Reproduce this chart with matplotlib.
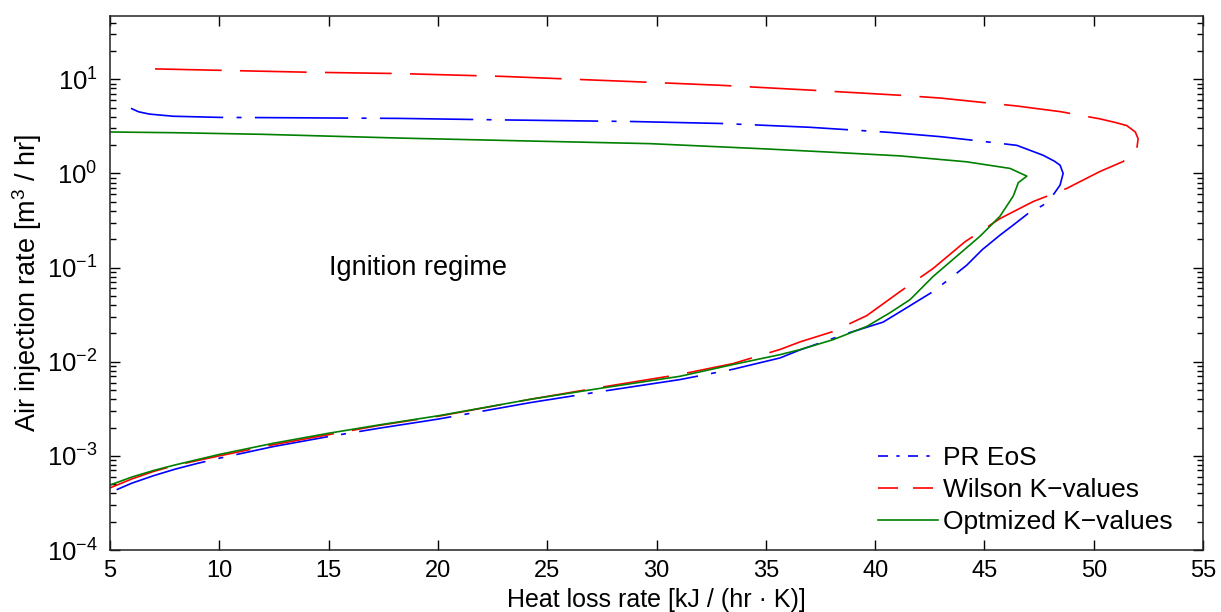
import numpy as np
import matplotlib
matplotlib.use("Agg")
import matplotlib.pyplot as plt
from matplotlib.lines import Line2D
from matplotlib.ticker import LogLocator, LogFormatterSciNotation, NullFormatter

plt.rcParams['font.family'] = ['Liberation Sans', 'DejaVu Sans']
plt.rcParams['mathtext.default'] = 'regular'

# curves: x = heat loss rate, logy = log10(air injection rate)
pr_x = [5.96, 6.3, 6.8, 7.9, 10, 14, 18.3, 23, 28.9, 33, 37, 40.7, 43, 44.94, 46.48,
        47.68, 48.2, 48.46, 48.6, 48.46, 48.14, 47.68, 47.0, 46.31, 45.71, 44.9,
        44.19, 43.43, 42.65, 41.14, 40.36, 38.85, 36.56, 35.65, 33.5, 31.07, 27.5,
        24.21, 20, 17.35, 15, 12.5, 10, 9, 8, 7, 6, 5]
pr_logy = [0.691, 0.655, 0.63, 0.607, 0.595, 0.59, 0.584, 0.568, 0.551, 0.53, 0.49,
           0.435, 0.39, 0.34, 0.298, 0.193, 0.13, 0.087, 0.0, -0.124, -0.23, -0.338,
           -0.425, -0.55, -0.656, -0.81, -0.975, -1.115, -1.255, -1.47, -1.58, -1.69,
           -1.875, -1.96, -2.08, -2.19, -2.315, -2.435, -2.61, -2.705, -2.795, -2.9,
           -3.025, -3.08, -3.14, -3.21, -3.29, -3.39]

wilson_x = [7.06, 10, 14, 18.3, 23, 28.9, 33, 37, 41.14, 43, 46.48, 48.5, 50.29, 51.0,
            51.51, 51.9, 52.03, 51.97, 51.75, 51.34, 50.29, 48.76, 47.22, 45.71, 44.1,
            42.65, 41.14, 39.62, 38.07, 36.56, 35.65, 33.5, 31.07, 27.5, 24.21, 20,
            17.35, 15, 12.5, 10, 9, 8, 7, 6, 5]
wilson_logy = [1.11, 1.095, 1.075, 1.06, 1.03, 0.975, 0.935, 0.885, 0.83, 0.8, 0.716,
               0.655, 0.579, 0.54, 0.508, 0.44, 0.368, 0.263, 0.2, 0.126, 0.021, -0.16,
               -0.3, -0.48, -0.728, -1.01, -1.255, -1.51, -1.68, -1.79, -1.87, -2.02,
               -2.135, -2.27, -2.4, -2.58, -2.675, -2.775, -2.88, -3.0, -3.05, -3.1,
               -3.165, -3.245, -3.34]

opt_x = [5, 8, 12, 18.3, 24, 29.7, 35, 38, 41.14, 44.19, 46.17, 46.94, 46.55, 46.32,
         45.71, 44.8, 43.73, 42.66, 41.6, 40.68, 39.62, 38.09, 36.56, 35.65, 33.5,
         31.07, 27.5, 24.21, 20, 17.35, 15, 12.5, 10, 9, 8, 7.5, 7, 6, 5]
opt_logy = [0.44, 0.432, 0.415, 0.375, 0.345, 0.316, 0.26, 0.225, 0.186, 0.123, 0.053,
            -0.029, -0.098, -0.24, -0.455, -0.667, -0.88, -1.093, -1.34, -1.48,
            -1.625, -1.765, -1.872, -1.925, -2.03, -2.155, -2.28, -2.4, -2.575, -2.67,
            -2.76, -2.865, -2.985, -3.04, -3.095, -3.125, -3.155, -3.225, -3.31]

labels = ['PR EoS', 'Wilson K\u2212values', 'Optmized K\u2212values']
x_ticks = [5, 10, 15, 20, 25, 30, 35, 40, 45, 50, 55]

fig = plt.figure(figsize=(12.21, 6.12), dpi=100)
ax = fig.add_axes([0.0901, 0.1013, 0.8952, 0.8726])

lw = 1.2
ax.plot(pr_x, np.power(10.0, pr_logy), color=(0, 0, 1), lw=lw,
        dashes=(56, 8, 3, 8))
ax.plot(wilson_x, np.power(10.0, wilson_logy), color=(1, 0, 0), lw=lw,
        dashes=(40, 11))
ax.plot(opt_x, np.power(10.0, opt_logy), color=(0, 0.5, 0), lw=lw)

ax.set_yscale('log')
ax.set_xlim(5, 55)
ax.set_ylim(1e-4, 47)
ax.set_xticks(x_ticks)
ax.yaxis.set_major_locator(LogLocator(base=10, numticks=10))
ax.yaxis.set_major_formatter(LogFormatterSciNotation())
ax.yaxis.set_minor_locator(LogLocator(base=10, subs=np.arange(2, 10), numticks=20))
ax.yaxis.set_minor_formatter(NullFormatter())

ax.tick_params(which='both', direction='in', top=True, right=True, width=1.0)
ax.tick_params(axis='y', labelsize=18.5, pad=9)
ax.tick_params(axis='x', labelsize=17, pad=7)
ax.tick_params(which='major', length=7)
ax.tick_params(which='minor', length=4)
for s in ax.spines.values():
    s.set_linewidth(1.1)
    s.set_color('#222222')

ax.set_xlabel('Heat loss rate [kJ / (hr \u00b7 K)]', fontsize=18)
ax.set_ylabel('Air injection rate [m$^3$ / hr]', fontsize=19.5)
ax.xaxis.set_label_coords(0.5, -0.0705)
ax.yaxis.set_label_coords(-0.060, 0.5)

ax.text(15.0, 0.1, 'Ignition regime', fontsize=19.5, va='center', ha='left')

handles = [
    Line2D([], [], color=(0, 0, 1), lw=lw, dashes=(6, 5, 2, 5)),
    Line2D([], [], color=(1, 0, 0), lw=lw, dashes=(12, 9)),
    Line2D([], [], color=(0, 0.5, 0), lw=lw),
]
ax.legend(handles, labels, loc='lower right', bbox_to_anchor=(0.972, 0.030),
          frameon=False, fontsize=19, handlelength=2.27, handletextpad=0.19,
          labelspacing=0.3, borderpad=0, borderaxespad=0)

fig.savefig('out.png', dpi=100)
